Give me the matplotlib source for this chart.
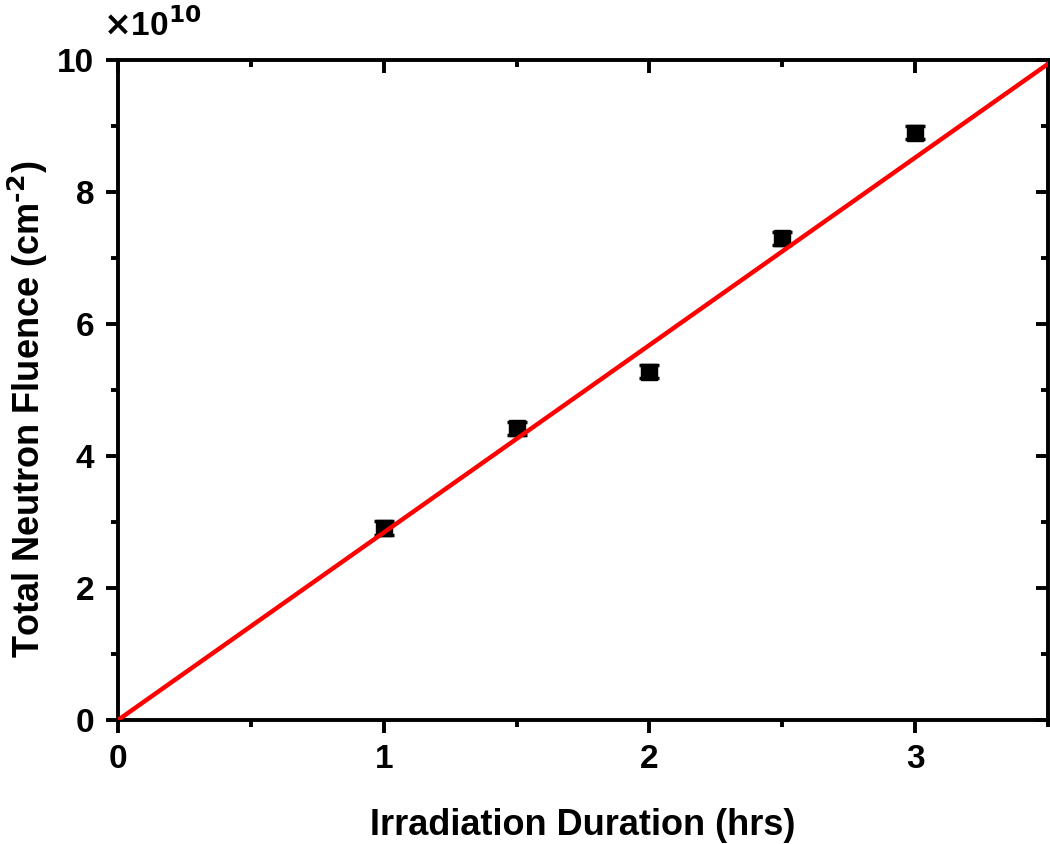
import matplotlib.pyplot as plt
import numpy as np

plt.rcParams["font.family"] = ["Liberation Sans", "DejaVu Sans"]
plt.rcParams["font.weight"] = "bold"
plt.rcParams["mathtext.default"] = "bf"

# data
hours = [1.0, 1.5, 2.0, 2.5, 3.0]
fluence = [2.91e10, 4.42e10, 5.28e10, 7.30e10, 8.90e10]
fluence_err = [0.1e10, 0.1e10, 0.1e10, 0.1e10, 0.1e10]
fit_x = [0.0, 3.5]
fit_slope = 2.84e10

fig = plt.figure(figsize=(10.5, 8.44), dpi=100)
ax = fig.add_axes([0.1124, 0.1469, 0.8856, 0.782])

fit_y = [fit_slope * x for x in fit_x]
ax.plot(fit_x, fit_y, color="#ff0000", lw=3.2, zorder=3)
ax.errorbar(hours, fluence, yerr=fluence_err, fmt="s", color="black",
            markersize=12, capsize=7.5, capthick=2.5, elinewidth=2, zorder=2)

ax.set_xlim(0, 3.5)
ax.set_ylim(0, 1e11)
ax.set_xticks([0, 1, 2, 3])
ax.set_xticks([0.5, 1.5, 2.5, 3.5], minor=True)
ax.set_yticks(np.arange(0, 1.01e11, 2e10))
ax.set_yticks(np.arange(1e10, 1e11, 2e10), minor=True)
ax.set_yticklabels(["0", "2", "4", "6", "8", "10"])

for s in ax.spines.values():
    s.set_linewidth(2.8)
ax.tick_params(which="both", labelsize=24, width=2.8)
ax.tick_params(which="major", length=9, pad=8)
ax.tick_params(which="minor", length=5)
ax.tick_params(which="both", right=True, top=True)

# left/bottom ticks outward, top/right inward
ax.xaxis.set_tick_params(which="both", direction="out")
ax.yaxis.set_tick_params(which="both", direction="out")
for t in ax.xaxis.get_major_ticks() + ax.xaxis.get_minor_ticks():
    t.tick2line.set_marker(3)
for t in ax.yaxis.get_major_ticks() + ax.yaxis.get_minor_ticks():
    t.tick2line.set_marker(0)

fig.text(0.098, 0.957, r"$\times$10$^{10}$", fontsize=24, fontweight="bold",
         ha="left", va="baseline")

ax.set_xlabel("Irradiation Duration (hrs)", fontsize=26, fontweight="bold", labelpad=24)
ax.set_ylabel(r"Total Neutron Fluence (cm$^{\text{-2}}$)", fontsize=26,
              fontweight="bold")
ax.yaxis.set_label_coords(-0.073, 0.47)

fig.savefig("out.png", dpi=100)
